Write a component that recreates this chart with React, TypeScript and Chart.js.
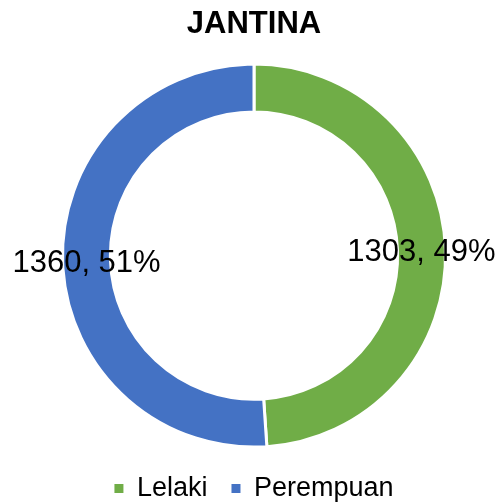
import React, { useEffect, useRef } from "react";
import { Chart, registerables } from "chart.js";

Chart.register(...registerables);

const categories = ["Lelaki", "Perempuan"];
const values = [1303, 1360];
const colors = ["#70AD47", "#4472C4"];
const titleText = "JANTINA";

const FONT = "'Liberation Sans', Arial, sans-serif";

const labelPlugin = {
  id: "sliceLabels",
  afterDatasetsDraw(chart: any) {
    const ctx = chart.ctx;
    const meta = chart.getDatasetMeta(0);
    const data = chart.data.datasets[0].data as number[];
    const total = data.reduce((a, b) => a + b, 0);
    ctx.save();
    ctx.font = `31px ${FONT}`;
    ctx.fillStyle = "#000000";
    ctx.textAlign = "center";
    ctx.textBaseline = "middle";
    meta.data.forEach((arc: any, i: number) => {
      const p = arc.tooltipPosition();
      const pct = Math.round((data[i] / total) * 100);
      ctx.fillText(`${data[i]}, ${pct}%`, p.x, p.y + 2);
    });
    ctx.restore();
  },
};

export default function App() {
  const ref = useRef<HTMLCanvasElement>(null);
  useEffect(() => {
    if (!ref.current) return;
    const chart = new Chart(ref.current, {
      type: "doughnut",
      data: {
        labels: categories,
        datasets: [
          {
            data: values,
            backgroundColor: colors,
            borderColor: "#FFFFFF",
            borderWidth: 3,
          },
        ],
      },
      options: {
        animation: false,
        responsive: false,
        cutout: "75%",
        radius: 191.5,
        layout: { padding: { left: 6, right: 0, top: 0, bottom: -9 } },
        plugins: {
          tooltip: { enabled: false },
          title: {
            display: true,
            text: titleText,
            color: "#000000",
            font: { family: FONT, size: 31, weight: "bold" },
            padding: { top: 6, bottom: 17 },
          },
          legend: {
            position: "bottom",
            labels: {
              color: "#000000",
              font: { family: FONT, size: 27 },
              boxWidth: 9,
              boxHeight: 9,
              padding: 24,
              generateLabels: (chart: any) =>
                categories.map((c, i) => ({
                  text: c,
                  fillStyle: colors[i],
                  strokeStyle: colors[i],
                  lineWidth: 0,
                  fontColor: "#000000",
                  hidden: false,
                  index: i,
                })),
            },
          },
        },
      },
      plugins: [labelPlugin],
    });
    return () => chart.destroy();
  }, []);
  return (
    <div style={{ position: "fixed", left: 0, top: 0, width: 502, height: 503, background: "#fff" }}>
      <canvas ref={ref} width={502} height={503} />
    </div>
  );
}
